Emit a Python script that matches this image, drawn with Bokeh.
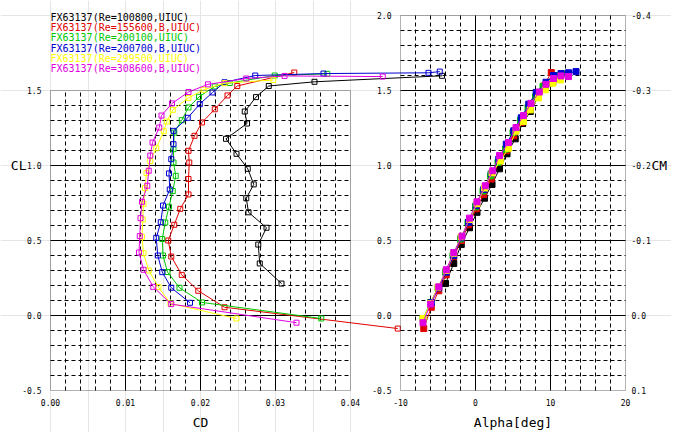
from bokeh.plotting import figure
from bokeh.models import (Range1d, LinearAxis, FixedTicker, PrintfTickFormatter,
                          BoxAnnotation, Label, ColumnDataSource)
from bokeh.embed import file_html
from bokeh.resources import INLINE

# ------------------------------------------------------------------ data
names = ["FX63137(Re=100800,UIUC)", "FX63137(Re=155600,B,UIUC)",
         "FX63137(Re=200100,UIUC)", "FX63137(Re=200700,B,UIUC)",
         "FX63137(Re=299500,UIUC)", "FX63137(Re=308600,B,UIUC)"]
colors = ["#000000", "#e00000", "#00c800", "#0000d0", "#ffff00", "#e000e0"]

alpha_100800 = [-4.0, -2.9, -1.9, -0.8, 0.2, 1.2, 2.2, 3.2, 4.2, 5.3, 6.3, 7.3, 8.3, 9.3, 10.3, 11.3]
cl_100800 = [0.213, 0.347, 0.473, 0.585, 0.688, 0.782, 0.874, 0.978, 1.078, 1.178, 1.280, 1.360,
             1.456, 1.530, 1.558, 1.598]
cd_100800 = [0.0308, 0.0279, 0.0277, 0.0288, 0.0264, 0.0261, 0.0271, 0.0263, 0.0248, 0.0234,
             0.0262, 0.0259, 0.0274, 0.0291, 0.0352, 0.0522]

alpha_155600 = [-6.9, -5.9, -4.9, -3.9, -2.9, -1.9, -0.9, 0.1, 1.1, 2.1, 3.1, 4.1, 5.1, 6.1,
                7.1, 8.1, 9.1, 10.1]
cl_155600 = [-0.087, 0.055, 0.165, 0.271, 0.393, 0.500, 0.605, 0.711, 0.807, 0.910, 1.020,
             1.098, 1.198, 1.287, 1.375, 1.467, 1.530, 1.620]
cd_155600 = [0.0463, 0.0232, 0.0197, 0.0175, 0.0161, 0.0157, 0.0165, 0.0173, 0.0184, 0.0184,
             0.0185, 0.0184, 0.0192, 0.0202, 0.0219, 0.0236, 0.0249, 0.0325]

alpha_200100 = [-7.0, -6.0, -5.0, -4.0, -3.0, -2.0, -1.0, 0.0, 1.0, 2.0, 3.0, 4.0, 5.0, 6.0,
                7.0, 8.0, 9.0, 10.0, 11.0, 12.0]
cl_200100 = [-0.020, 0.087, 0.185, 0.290, 0.400, 0.510, 0.620, 0.725, 0.830, 0.931, 1.020,
             1.109, 1.220, 1.302, 1.387, 1.458, 1.527, 1.550, 1.600, 1.611]
cd_200100 = [0.0361, 0.0202, 0.0172, 0.0156, 0.0150, 0.0149, 0.0153, 0.0158, 0.0163, 0.0167,
             0.0164, 0.0164, 0.0165, 0.0175, 0.0184, 0.0198, 0.0219, 0.0239, 0.0299, 0.0369]

alpha_200700 = [-5.9, -4.9, -3.9, -2.9, -1.9, -0.9, 0.1, 1.1, 2.1, 3.1, 4.1, 5.1, 6.1, 7.1,
                8.1, 9.4, 10.4, 11.4, 12.4, 13.4]
cl_200700 = [0.085, 0.185, 0.289, 0.400, 0.518, 0.622, 0.733, 0.840, 0.947, 1.042, 1.142,
             1.231, 1.318, 1.409, 1.487, 1.555, 1.600, 1.613, 1.618, 1.626]
cd_200700 = [0.0186, 0.0161, 0.0149, 0.0143, 0.0141, 0.0147, 0.0150, 0.0159, 0.0158, 0.0161,
             0.0164, 0.0164, 0.0183, 0.0199, 0.0216, 0.0232, 0.0273, 0.0364, 0.0504, 0.0519]

alpha_299500 = [-7.0, -6.0, -5.0, -3.9, -2.9, -1.9, -0.8, 0.2, 1.2, 2.2, 3.3, 4.4, 5.4, 6.4,
                7.3, 8.4, 9.3, 10.3, 11.3]
cl_299500 = [-0.020, 0.080, 0.189, 0.300, 0.415, 0.525, 0.640, 0.745, 0.850, 0.950, 1.030,
             1.115, 1.229, 1.293, 1.371, 1.451, 1.505, 1.549, 1.570]
cd_299500 = [0.0248, 0.0160, 0.0144, 0.0131, 0.0124, 0.0122, 0.0123, 0.0124, 0.0126, 0.0128,
             0.0133, 0.0141, 0.0151, 0.0155, 0.0163, 0.0184, 0.0204, 0.0232, 0.0297]

alpha_308600 = [-7.0, -6.0, -4.9, -3.9, -2.9, -1.8, -0.8, 0.2, 1.3, 2.3, 3.2, 4.4, 5.4, 6.4,
                7.4, 8.5, 9.4, 10.4, 11.4, 12.4]
cl_308600 = [-0.048, 0.076, 0.191, 0.305, 0.420, 0.529, 0.649, 0.758, 0.865, 0.965, 1.066,
             1.153, 1.253, 1.333, 1.414, 1.490, 1.541, 1.580, 1.597, 1.593]
cd_308600 = [0.0328, 0.0161, 0.0137, 0.0124, 0.0118, 0.0119, 0.0120, 0.0122, 0.0129, 0.0131,
             0.0133, 0.0136, 0.0145, 0.0148, 0.0162, 0.0184, 0.0210, 0.0261, 0.0312, 0.0443]

series = [
    (alpha_100800, cl_100800, cd_100800),
    (alpha_155600, cl_155600, cd_155600),
    (alpha_200100, cl_200100, cd_200100),
    (alpha_200700, cl_200700, cd_200700),
    (alpha_299500, cl_299500, cd_299500),
    (alpha_308600, cl_308600, cd_308600),
]

cd_ticks = [0.00, 0.01, 0.02, 0.03, 0.04]
cl_ticks_left = [-0.5, 0.0, 0.5, 1.0, 1.5]
cl_ticks_right = [-0.5, 0.0, 0.5, 1.0, 1.5, 2.0]
alpha_ticks = [-10, 0, 10, 20]
cm_ticks = [-0.4, -0.3, -0.2, -0.1, 0.0, 0.1]

# ------------------------------------------------------------------ layout (pixels)
W, H = 671, 432
PX_L0, PX_L1 = 50, 350          # left panel x extent
PX_R0, PX_R1 = 400, 625         # right panel x extent
PX_TOP, PX_BOT = 15, 390        # right panel top / both panels bottom

CD_LIM = (cd_ticks[0], cd_ticks[-1])
AL_LIM = (alpha_ticks[0], alpha_ticks[-1])
CL_LIM_L = (cl_ticks_left[0], cl_ticks_left[-1])
CL_LIM_R = (cl_ticks_right[0], cl_ticks_right[-1])
CM_LIM = (cm_ticks[-1], cm_ticks[0])        # bottom value, top value

cd_pp = (CD_LIM[1] - CD_LIM[0]) / (PX_L1 - PX_L0)
al_pp = (AL_LIM[1] - AL_LIM[0]) / (PX_R1 - PX_R0)
cl_pp = (CL_LIM_R[1] - CL_LIM_R[0]) / (PX_BOT - PX_TOP)
cm_pp = (CM_LIM[1] - CM_LIM[0]) / (PX_BOT - PX_TOP)

# the frame covers the whole canvas; every axis sits at a fixed place inside it
x_range = Range1d(CD_LIM[0] - PX_L0 * cd_pp, CD_LIM[0] + (W - PX_L0) * cd_pp)
alpha_range = Range1d(AL_LIM[0] - PX_R0 * al_pp, AL_LIM[0] + (W - PX_R0) * al_pp)
y_range = Range1d(CL_LIM_R[0] - (H - PX_BOT) * cl_pp, CL_LIM_R[0] + PX_BOT * cl_pp)
cm_range = Range1d(start=CM_LIM[0] - (H - PX_BOT) * cm_pp, end=CM_LIM[0] + PX_BOT * cm_pp)

FONT = "DejaVu Sans Mono"

p = figure(width=W, height=H, x_range=x_range, y_range=y_range,
           output_backend="svg", toolbar_location=None,
           x_axis_location=None, y_axis_location=None,
           min_border_left=0, min_border_right=0, min_border_top=0, min_border_bottom=0)
p.extra_x_ranges = {"alpha": alpha_range}
p.extra_y_ranges = {"cm": cm_range}
p.outline_line_color = None
p.background_fill_color = "white"
p.border_fill_color = "white"


# ------------------------------------------------------------------ grids
def split_lines(lo, hi, minor, major):
    n = int(round((hi - lo) / minor))
    vals = [lo + i * minor for i in range(1, n)]
    is_major = [abs(v / major - round(v / major)) < 1e-6 for v in vals]
    return ([v for v, m in zip(vals, is_major) if not m],
            [v for v, m in zip(vals, is_major) if m])


def draw_grid(xlim, ylim, xminor, xmajor, yminor, ymajor, **kw):
    vmin, vmaj = split_lines(xlim[0], xlim[1], xminor, xmajor)
    hmin, hmaj = split_lines(ylim[0], ylim[1], yminor, ymajor)
    for xs, dash in ((vmin, "4 3"), (vmaj, "solid")):
        p.segment(x0=xs, y0=[ylim[0]] * len(xs), x1=xs, y1=[ylim[1]] * len(xs),
                  line_color="black", line_width=1, line_dash=dash, **kw)
    for ys, dash in ((hmin, "4 3"), (hmaj, "solid")):
        p.segment(x0=[xlim[0]] * len(ys), y0=ys, x1=[xlim[1]] * len(ys), y1=ys,
                  line_color="black", line_width=1, line_dash=dash, **kw)


draw_grid(CD_LIM, CL_LIM_L, 0.002, 0.01, 0.1, 0.5)
draw_grid(AL_LIM, CL_LIM_R, 2, 10, 0.1, 0.5, x_range_name="alpha")

p.add_layout(BoxAnnotation(left=CD_LIM[0], right=CD_LIM[1], bottom=CL_LIM_L[0], top=CL_LIM_L[1],
                           fill_color=None, line_color="black", line_width=1))
p.add_layout(BoxAnnotation(left=AL_LIM[0], right=AL_LIM[1], bottom=CL_LIM_R[0], top=CL_LIM_R[1],
                           fill_color=None, line_color="black", line_width=1,
                           x_range_name="alpha"))

# ------------------------------------------------------------------ data glyphs
for (al, cl, cd), c in zip(series, colors):
    src = ColumnDataSource(dict(alpha=al, cl=cl, cd=cd))
    p.line("cd", "cl", source=src, line_color=c, line_width=1)
    p.scatter("cd", "cl", source=src, marker="square", size=5,
              line_color=c, fill_color=None, line_width=1)

for (al, cl, cd), c in zip(series, colors):
    src = ColumnDataSource(dict(alpha=al, cl=cl, cd=cd))
    p.line("alpha", "cl", source=src, line_color=c, line_width=1, x_range_name="alpha")
    p.scatter("alpha", "cl", source=src, marker="square", size=6,
              line_color=c, fill_color=c, x_range_name="alpha")


# ------------------------------------------------------------------ axes
def styled(ax, standoff):
    ax.axis_line_color = None
    ax.major_tick_line_color = None
    ax.minor_tick_line_color = None
    ax.major_tick_in = 0
    ax.major_tick_out = 0
    ax.minor_tick_in = 0
    ax.minor_tick_out = 0
    ax.major_label_text_font = FONT
    ax.major_label_text_font_size = "8px"
    ax.major_label_text_color = "black"
    ax.major_label_standoff = standoff
    ax.axis_label_text_font = FONT
    ax.axis_label_text_font_size = "13px"
    ax.axis_label_text_font_style = "normal"
    ax.axis_label_text_color = "black"
    return ax


ax_cl = styled(LinearAxis(ticker=FixedTicker(ticks=cl_ticks_left, minor_ticks=[]),
                          formatter=PrintfTickFormatter(format="%.1f"),
                          bounds=CL_LIM_L, fixed_location=CD_LIM[0]), 9)
p.add_layout(ax_cl, "left")

ax_cl_title = styled(LinearAxis(ticker=FixedTicker(ticks=[], minor_ticks=[]),
                                axis_label="CL", axis_label_orientation="horizontal",
                                bounds=(0.0, 2.0), fixed_location=CD_LIM[0]), 0)
ax_cl_title.axis_label_standoff = 24
p.add_layout(ax_cl_title, "left")

ax_cd = styled(LinearAxis(ticker=FixedTicker(ticks=cd_ticks, minor_ticks=[]),
                          formatter=PrintfTickFormatter(format="%.2f"),
                          bounds=CD_LIM, fixed_location=CL_LIM_L[0], axis_label="CD"), 8)
ax_cd.axis_label_standoff = 6
p.add_layout(ax_cd, "below")

ax_al = styled(LinearAxis(x_range_name="alpha",
                          ticker=FixedTicker(ticks=alpha_ticks, minor_ticks=[]),
                          formatter=PrintfTickFormatter(format="%d"),
                          bounds=AL_LIM, fixed_location=CL_LIM_R[0], axis_label="Alpha[deg]"), 8)
ax_al.axis_label_standoff = 6
p.add_layout(ax_al, "below")

ax_cl2 = styled(LinearAxis(x_range_name="alpha",
                           ticker=FixedTicker(ticks=cl_ticks_right, minor_ticks=[]),
                           formatter=PrintfTickFormatter(format="%.1f"),
                           bounds=CL_LIM_R, fixed_location=AL_LIM[0]), 9)
p.add_layout(ax_cl2, "left")

ax_cm = styled(LinearAxis(x_range_name="alpha", y_range_name="cm",
                          ticker=FixedTicker(ticks=cm_ticks, minor_ticks=[]),
                          formatter=PrintfTickFormatter(format="%.1f"),
                          bounds=(cm_ticks[0], cm_ticks[-1]), fixed_location=AL_LIM[1]), 6)
p.add_layout(ax_cm, "right")

ax_cm_title = styled(LinearAxis(x_range_name="alpha", y_range_name="cm",
                                ticker=FixedTicker(ticks=[], minor_ticks=[]),
                                axis_label="CM", axis_label_orientation="horizontal",
                                bounds=(-0.4, 0.0), fixed_location=AL_LIM[1]), 0)
ax_cm_title.axis_label_standoff = 26
p.add_layout(ax_cm_title, "right")

# ------------------------------------------------------------------ legend text
LEG_Y0, LEG_DY = 1.989, 0.069
for i, (nm, c) in enumerate(zip(names, colors)):
    p.add_layout(Label(x=CD_LIM[0], y=LEG_Y0 - i * LEG_DY, text=nm, text_color=c,
                       text_font=FONT, text_font_size="10px",
                       text_baseline="middle", text_align="left"))

open("out.html", "w").write(file_html(p, INLINE))
